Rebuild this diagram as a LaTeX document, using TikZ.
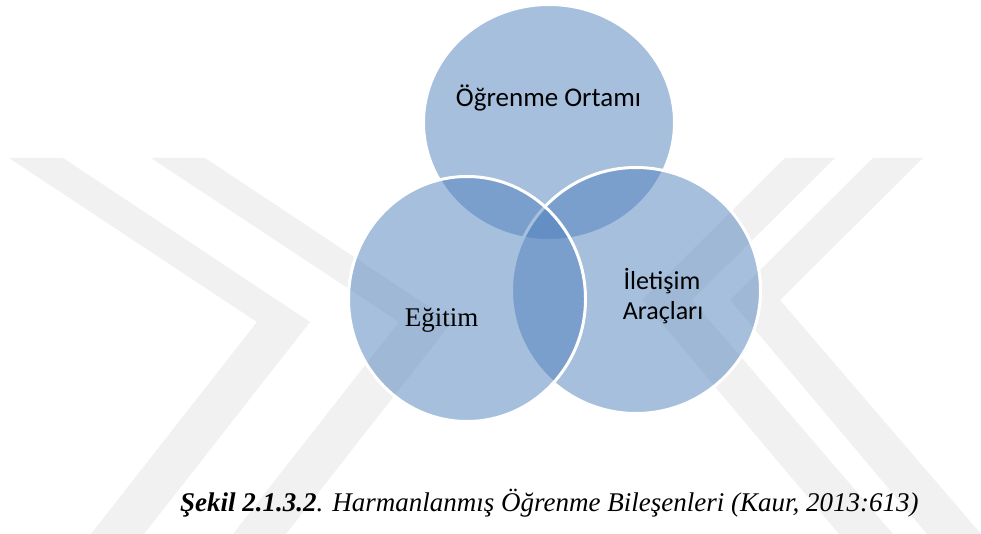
\documentclass[tikz,border=0pt]{standalone}
\usepackage{fontspec}
\setmainfont{Liberation Serif}
\newfontfamily\calibri{Carlito}
\definecolor{vennblue}{HTML}{4F81BD}
\definecolor{markgray}{HTML}{F1F1F1}
\begin{document}
\begin{tikzpicture}[x=1pt,y=-1pt,
  venn/.style={fill=vennblue, fill opacity=0.5, draw=white, line width=3pt},
  wmark/.style={fill=markgray},
  lbl/.style={inner sep=0pt, text=black}]
\useasboundingbox (0,0) rectangle (981,534);
\fill[white] (0,0) rectangle (981,534);

% background watermark: two chevrons pointing right, two pointing left
\foreach \s in {0,142}{
  \fill[wmark] (9+\s,158) -- (63+\s,158) -- (310+\s,322) -- (144+\s,534)
    -- (91+\s,534) -- (257+\s,322) -- cycle;
}
\foreach \s in {0,-88}{
  \fill[wmark] (923+\s,158) -- (873+\s,158) -- (730+\s,300) -- (927+\s,534)
    -- (981+\s,534) -- (780+\s,300) -- cycle;
}

% the three overlapping sets
\path[venn] (549,122.5) ellipse [x radius=125.5, y radius=118];
\path[venn] (636,290.5) ellipse [x radius=124.5, y radius=123];
\path[venn] (467,299) ellipse [x radius=118.5, y radius=122.5];

\node[lbl, anchor=base] (ortam) at (548.5,107) {\calibri\fontsize{27}{32}\selectfont Öğrenme Ortamı};
\node[lbl, anchor=base] (iletisim) at (662,290) {\calibri\fontsize{26}{29}\selectfont İletişim};
\node[lbl, anchor=base] (araclar) at (663,319) {\calibri\fontsize{26}{29}\selectfont Araçları};
\node[lbl, anchor=base] (egitim) at (441.5,326) {\fontsize{27}{32}\selectfont Eğitim};

\node[lbl, anchor=base west] (caption) at (180,511)
  {\fontsize{27}{32}\selectfont\itshape\textbf{Şekil 2.1.3.2}. Harmanlanmış Öğrenme Bileşenleri (Kaur, 2013:613)};
\end{tikzpicture}
\end{document}
